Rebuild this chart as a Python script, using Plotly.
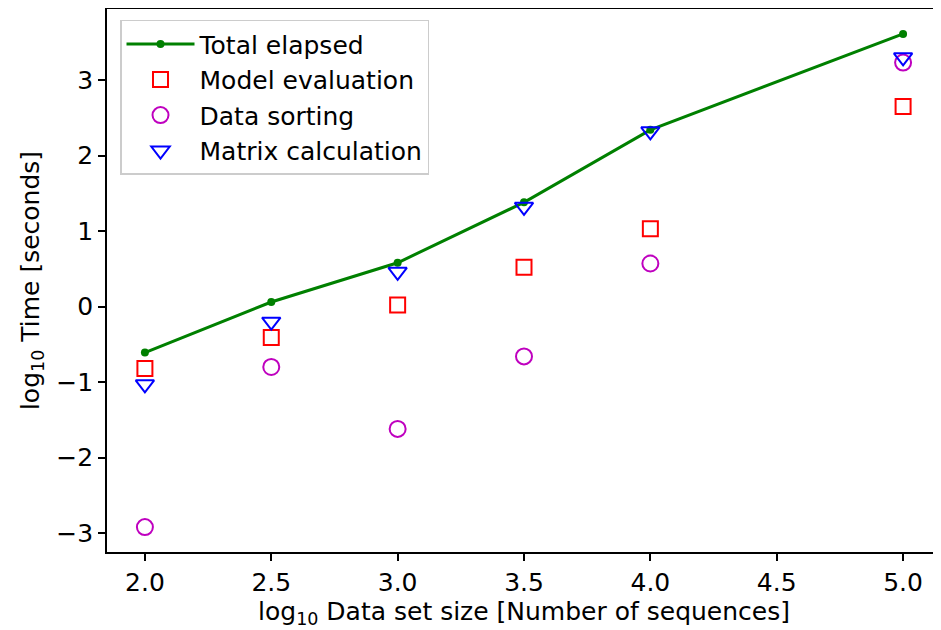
import plotly.graph_objects as go

x_total = [2.0, 2.5, 3.0, 3.5, 4.0, 5.0]
total_elapsed = [-0.61, 0.06, 0.58, 1.38, 2.34, 3.61]
model_eval = [-0.82, -0.41, 0.02, 0.52, 1.03, 2.65]
data_sorting = [-2.92, -0.80, -1.62, -0.66, 0.57, 3.23]
matrix_calc = [-1.03, -0.20, 0.46, 1.32, 2.32, 3.30]

x_ticks = [2.0, 2.5, 3.0, 3.5, 4.0, 4.5, 5.0]
x_ticktext = ["2.0", "2.5", "3.0", "3.5", "4.0", "4.5", "5.0"]
y_ticks = [-3, -2, -1, 0, 1, 2, 3]
y_ticktext = ["\u22123", "\u22122", "\u22121", "0", "1", "2", "3"]

FONT = "DejaVu Sans"
FS = 25

fig = go.Figure()
fig.add_trace(go.Scatter(
    x=x_total, y=total_elapsed, mode="lines+markers", name="Total elapsed",
    line=dict(color="#008000", width=3),
    marker=dict(color="#008000", size=8, symbol="circle"),
))
fig.add_trace(go.Scatter(
    x=x_total, y=model_eval, mode="markers", name="Model evaluation",
    marker=dict(symbol="square-open", size=15, color="#ff0000", line=dict(width=2, color="#ff0000")),
))
fig.add_trace(go.Scatter(
    x=x_total, y=data_sorting, mode="markers", name="Data sorting",
    marker=dict(symbol="circle-open", size=16, color="#bf00bf", line=dict(width=2, color="#bf00bf")),
))
fig.add_trace(go.Scatter(
    x=x_total, y=matrix_calc, mode="markers", name="Matrix calculation",
    marker=dict(symbol="triangle-down-open", size=16, color="#0000ff", line=dict(width=2, color="#0000ff")),
))

fig.update_layout(
    width=933, height=622,
    margin=dict(l=99, r=0, t=1, b=78),
    paper_bgcolor="white", plot_bgcolor="white",
    font=dict(family=FONT, size=FS, color="black"),
    showlegend=True,
    legend=dict(
        x=0.0156, y=0.98, xanchor="left", yanchor="top",
        bgcolor="rgba(255,255,255,0.8)", bordercolor="#cccccc", borderwidth=1.5,
        font=dict(family=FONT, size=FS, color="black"),
        itemwidth=68,
    ),
)
fig.update_xaxes(
    range=[1.85, 5.15], tickvals=x_ticks, ticktext=x_ticktext, automargin=False,
    showgrid=False, zeroline=False, showline=True, linecolor="black", linewidth=1.6,
    mirror=True, ticks="outside", ticklen=7, tickwidth=1.6, tickcolor="black",
    tickfont=dict(family=FONT, size=FS),
    title=dict(text="log<sub>10</sub> Data set size [Number of sequences]", standoff=0,
               font=dict(family=FONT, size=FS)),
)
fig.update_yaxes(
    range=[-3.25, 3.94], tickvals=y_ticks, ticktext=y_ticktext, automargin=False,
    showgrid=False, zeroline=False, showline=True, linecolor="black", linewidth=1.6,
    mirror=True, ticks="outside", ticklen=7, tickwidth=1.6, tickcolor="black",
    tickfont=dict(family=FONT, size=FS),
    title=dict(text="log<sub>10</sub> Time [seconds]", standoff=10,
               font=dict(family=FONT, size=FS)),
)

fig.write_html("out.html")
